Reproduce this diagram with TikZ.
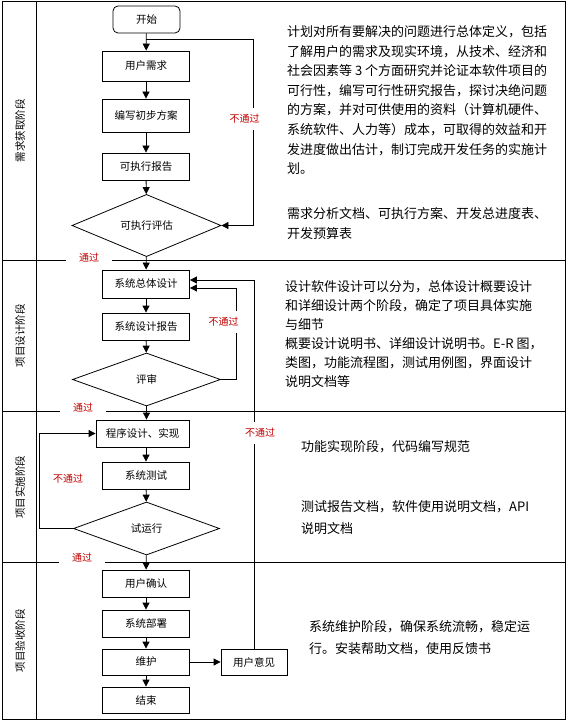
\documentclass[tikz,border=0pt]{standalone}
\usepackage{fontspec}
\setmainfont{Noto Sans CJK SC}
\usepackage{tikz}
\usetikzlibrary{arrows.meta,shapes,positioning,calc}
\definecolor{passred}{RGB}{192,0,0}
\tikzstyle{block} = [draw, rectangle, line width=0.8pt, minimum width=87pt,
    minimum height=27pt, inner sep=0pt, font=\fontsize{10.5}{12}\selectfont]
\tikzstyle{decision} = [draw, diamond, line width=0.8pt, minimum width=148pt,
    minimum height=53pt, inner sep=0pt, font=\fontsize{10.5}{12}\selectfont]
\tikzstyle{arrowline} = [draw, line width=0.8pt, -{Triangle[length=7pt,width=7pt]}]
\tikzstyle{pass} = [fill=white, text=passred, font=\fontsize{10}{12}\selectfont,
    inner xsep=13pt, inner ysep=1pt]
\tikzstyle{nopass} = [fill=white, text=passred, font=\fontsize{10}{12}\selectfont,
    inner xsep=2pt, inner ysep=6pt]
\tikzstyle{lane} = [rotate=90, font=\fontsize{10.5}{12}\selectfont]
\tikzstyle{note} = [anchor=north west, align=left, inner sep=0pt]

\begin{document}
\begin{tikzpicture}[x=1pt, y=-1pt]
  \useasboundingbox (0,0) rectangle (567,722);
  % flow of the four stages
  \node [block, rounded corners=5pt, minimum width=67pt] (start) at (146.5,19.5) {开始};
  \node [block, minimum height=30pt] (need) at (146,66) {用户需求};
  \node [block, minimum height=33pt] (plan) at (146,115.5) {编写初步方案};
  \node [block] (rep) at (146,166.5) {可执行报告};
  \node [decision, minimum width=149pt] (eval) at (146.5,225.5) {可执行评估};
  \node [block, minimum height=28pt] (sd) at (146,284) {系统总体设计};
  \node [block] (sdr) at (146,326.5) {系统设计报告};
  \node [decision] (review) at (146.5,379.5) {评审};
  \node [block, minimum width=93pt] (prog) at (142.5,433.5) {程序设计、实现};
  \node [block] (test) at (146,475.5) {系统测试};
  \node [decision, minimum width=146pt] (trial) at (146.5,528.5) {试运行};
  \node [block] (confirm) at (146,583.5) {用户确认};
  \node [block] (deploy) at (146,623.5) {系统部署};
  \node [block, minimum height=26pt] (maint) at (146,662) {维护};
  \node [block, minimum height=26pt] (finish) at (146,700) {结束};
  \node [block, minimum width=66pt, minimum height=26pt] (fb) at (254,662) {用户意见};
  \coordinate (j1) at (146,39);

  % table frame
  \draw [line width=1pt] (2,2) rectangle (565,719);
  \draw [line width=1pt] (36,2) -- (36,719);
  \foreach \y in {260,411,562}
    \draw [line width=1pt] (2,\y) -- (565,\y);

  % lane titles
  \node [lane] (lane1) at (20,131) {需求获取阶段};
  \node [lane] (lane2) at (20,335.5) {项目设计阶段};
  \node [lane] (lane3) at (20,487) {项目实施阶段};
  \node [lane] (lane4) at (20,640.5) {项目验收阶段};

  % connectors
  \draw [arrowline] (start) -- (need);
  \draw [arrowline] (need) -- (plan);
  \draw [arrowline] (plan) -- (rep);
  \draw [arrowline] (rep) -- (eval);
  \draw [arrowline] (eval) -- (sd);
  \draw [arrowline] (sd) -- (sdr);
  \draw [arrowline] (sdr) -- (review);
  \draw [arrowline] (review.south) -- (review.south |- prog.north);
  \draw [arrowline] (prog.south -| test.north) -- (test.north);
  \draw [arrowline] (test) -- (trial);
  \draw [arrowline] (trial) -- (confirm);
  \draw [arrowline] (confirm) -- (deploy);
  \draw [arrowline] (deploy) -- (maint);
  \draw [arrowline] (maint) -- (finish);
  \draw [arrowline] (maint) -- (fb);
  \draw [arrowline] (j1) -| ($(eval.east)+(32,0)$) -- (eval.east);
  \draw [arrowline] (review.east) -- ++(15,0) |- ($(sd.east)+(0,4)$);
  \draw [arrowline] (fb.north) |- ($(sd.east)+(0,-4)$);
  \draw [arrowline] (trial.west) -- ++(-34,0) |- (prog.west);

  % pass / fail labels
  \node [pass] (p1) at (89,258) {通过};
  \node [pass] (p2) at (83,408) {通过};
  \node [pass] (p3) at (82,558) {通过};
  \node [nopass] (f1) at (244.5,119) {不通过};
  \node [nopass] (f2) at (223.5,322) {不通过};
  \node [nopass] (f3) at (260,433) {不通过};
  \node [nopass, inner xsep=13pt] (f4) at (68,479) {不通过};

  % stage notes
  \node [note, font=\fontsize{13}{19.6}\selectfont] (txt1) at (287,25.2)
    {计划对所有要解决的问题进行总体定义，包括\\
     了解用户的需求及现实环境，从技术、经济和\\
     社会因素等 3 个方面研究并论证本软件项目的\\
     可行性，编写可行性研究报告，探讨决绝问题\\
     的方案，并对可供使用的资料（计算机硬件、\\
     系统软件、人力等）成本，可取得的效益和开\\
     发进度做出估计，制订完成开发任务的实施计\\
     划。\\[25.4pt]
     需求分析文档、可执行方案、开发总进度表、\\
     开发预算表};
  \node [note, font=\fontsize{13}{19}\selectfont] (txt2) at (285,280.2)
    {设计软件设计可以分为，总体设计概要设计\\
     和详细设计两个阶段，确定了项目具体实施\\
     与细节\\
     概要设计说明书、详细设计说明书。E-R 图，\\
     类图，功能流程图，测试用例图，界面设计\\
     说明文档等};
  \node [note, font=\fontsize{13}{21.6}\selectfont] (txt3) at (301,440.2)
    {功能实现阶段，代码编写规范};
  \node [note, font=\fontsize{13}{21.6}\selectfont] (txt4) at (301,500.2)
    {测试报告文档，软件使用说明文档，API\\
     说明文档};
  \node [note, font=\fontsize{13}{21.6}\selectfont] (txt5) at (309,620.2)
    {系统维护阶段，确保系统流畅，稳定运\\
     行。安装帮助文档，使用反馈书};
\end{tikzpicture}
\end{document}
